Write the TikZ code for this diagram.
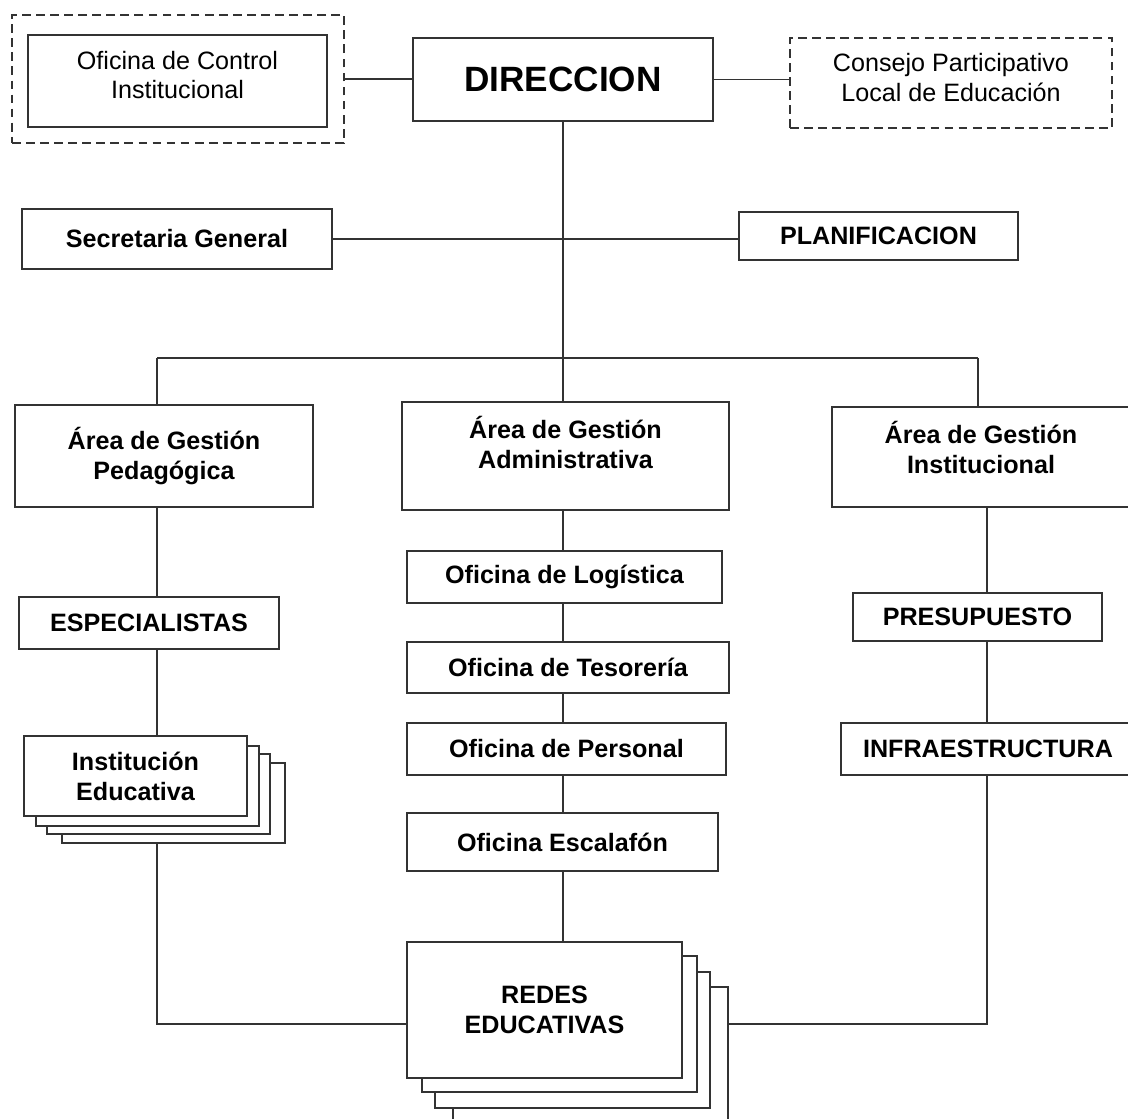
\documentclass[tikz,border=0pt]{standalone}
\usepackage{fontspec}
\setmainfont{Liberation Sans}
\usetikzlibrary{positioning,calc}

\begin{document}
\begin{tikzpicture}[line width=0.7pt]
\tikzstyle{box} = [rectangle,draw=black!80,line width=0.8pt,fill=white,align=center,inner sep=0pt,font=\fontsize{14.3}{17}\selectfont\bfseries]
\tikzstyle{plain} = [box,font=\fontsize{14.3}{17}\selectfont]
\tikzstyle{dbox} = [plain,dash pattern=on 5pt off 3pt]
\tikzstyle{link} = [draw=black!80,line width=0.7pt]
\useasboundingbox (0,0) rectangle (22.56,-22.38);

    % top row
    \node[dbox,minimum width=6.64cm,minimum height=2.56cm] (ctrlout) at (3.56,-1.58) {};
    \node[plain,minimum width=5.98cm,minimum height=1.84cm] (ctrl) at (3.55,-1.62) {Oficina de Control\\Institucional\\[-10pt]\mbox{}};
    \node[box,minimum width=6.00cm,minimum height=1.66cm,font=\fontsize{20}{24}\selectfont\bfseries] (dir) at (11.26,-1.59) {DIRECCION};
    \node[dbox,minimum width=6.44cm,minimum height=1.80cm] (consejo) at (19.02,-1.66) {Consejo Participativo\\Local de Educación\\[-11pt]\mbox{}};
    \node[box,minimum width=6.20cm,minimum height=1.20cm] (sec) at (3.54,-4.78) {Secretaria General};
    \node[box,minimum width=5.58cm,minimum height=0.96cm] (plan) at (17.57,-4.72) {PLANIFICACION};

    % areas
    \node[box,minimum width=5.96cm,minimum height=2.04cm] (ped) at (3.28,-9.12) {Área de Gestión\\Pedagógica};
    \node[box,minimum width=6.54cm,minimum height=2.16cm] (adm) at (11.31,-9.12) {Área de Gestión\\Administrativa\\[-1pt]\mbox{}};
    \node[box,minimum width=5.96cm,minimum height=2.00cm] (inst) at (19.62,-9.14) {Área de Gestión\\Institucional\\[-5.6pt]\mbox{}};

    % left column
    \node[box,minimum width=5.20cm,minimum height=1.04cm] (esp) at (2.98,-12.46) {ESPECIALISTAS};
    \foreach \i/\dx/\dy in {3/0.76/0.54,2/0.46/0.36,1/0.24/0.20}
        \node[box,minimum width=4.46cm,minimum height=1.60cm,xshift=\dx cm,yshift=-\dy cm] (ie\i) at (2.71,-15.52) {};
    \node[box,minimum width=4.46cm,minimum height=1.60cm] (ie) at (2.71,-15.52) {Institución\\Educativa};

    % middle column
    \node[box,minimum width=6.30cm,minimum height=1.04cm] (log) at (11.29,-11.54) {Oficina de Logística};
    \node[box,minimum width=6.44cm,minimum height=1.02cm] (tes) at (11.36,-13.35) {Oficina de Tesorería};
    \node[box,minimum width=6.38cm,minimum height=1.04cm] (per) at (11.33,-14.98) {Oficina de Personal};
    \node[box,minimum width=6.22cm,minimum height=1.16cm] (esc) at (11.25,-16.84) {Oficina Escalafón};

    % right column
    \node[box,minimum width=4.98cm,minimum height=0.96cm] (pres) at (19.55,-12.34) {PRESUPUESTO};
    \node[box,minimum width=5.88cm,minimum height=1.04cm] (infra) at (19.76,-14.98) {INFRAESTRUCTURA};

    % redes
    \foreach \i/\dx/\dy in {3/0.92/0.90,2/0.56/0.60,1/0.30/0.28}
        \node[box,minimum width=5.50cm,minimum height=2.72cm,xshift=\dx cm,yshift=-\dy cm] (redes\i) at (10.89,-20.20) {};
    \node[box,minimum width=5.50cm,minimum height=2.72cm] (redes) at (10.89,-20.20) {REDES\\EDUCATIVAS};

    \coordinate (busl) at (3.14,-7.16);
    \coordinate (busr) at (19.56,-7.16);
    \coordinate (jl) at (3.14,-20.48);
    \coordinate (jr) at (19.74,-20.48);

    \draw[link] (ctrlout.east) -- (ctrlout.east -| dir.west);
    \draw[link] (dir.east) -- (dir.east -| consejo.west);
    \draw[link] (sec.east) -- (sec.east -| plan.west);
    \draw[link] (dir.south) -- (dir.south |- adm.north);
    \draw[link] (busl) -- (busr);
    \draw[link] (busl) -- (busl |- ped.north);
    \draw[link] (busr) -- (busr |- inst.north);
    \draw[link] (busl |- ped.south) -- (busl |- esp.north);
    \draw[link] (busl |- esp.south) -- (busl |- ie.north);
    \draw[link] (busl |- ie3.south) -- (jl) -- (redes.west |- jl);
    \foreach \a/\b in {adm/log,log/tes,tes/per,per/esc,esc/redes}
        \draw[link] (dir.south |- \a.south) -- (dir.south |- \b.north);
    \foreach \a/\b in {inst/pres,pres/infra}
        \draw[link] (jr |- \a.south) -- (jr |- \b.north);
    \draw[link] (jr |- infra.south) -- (jr) -- (redes3.east |- jr);
\end{tikzpicture}
\end{document}
